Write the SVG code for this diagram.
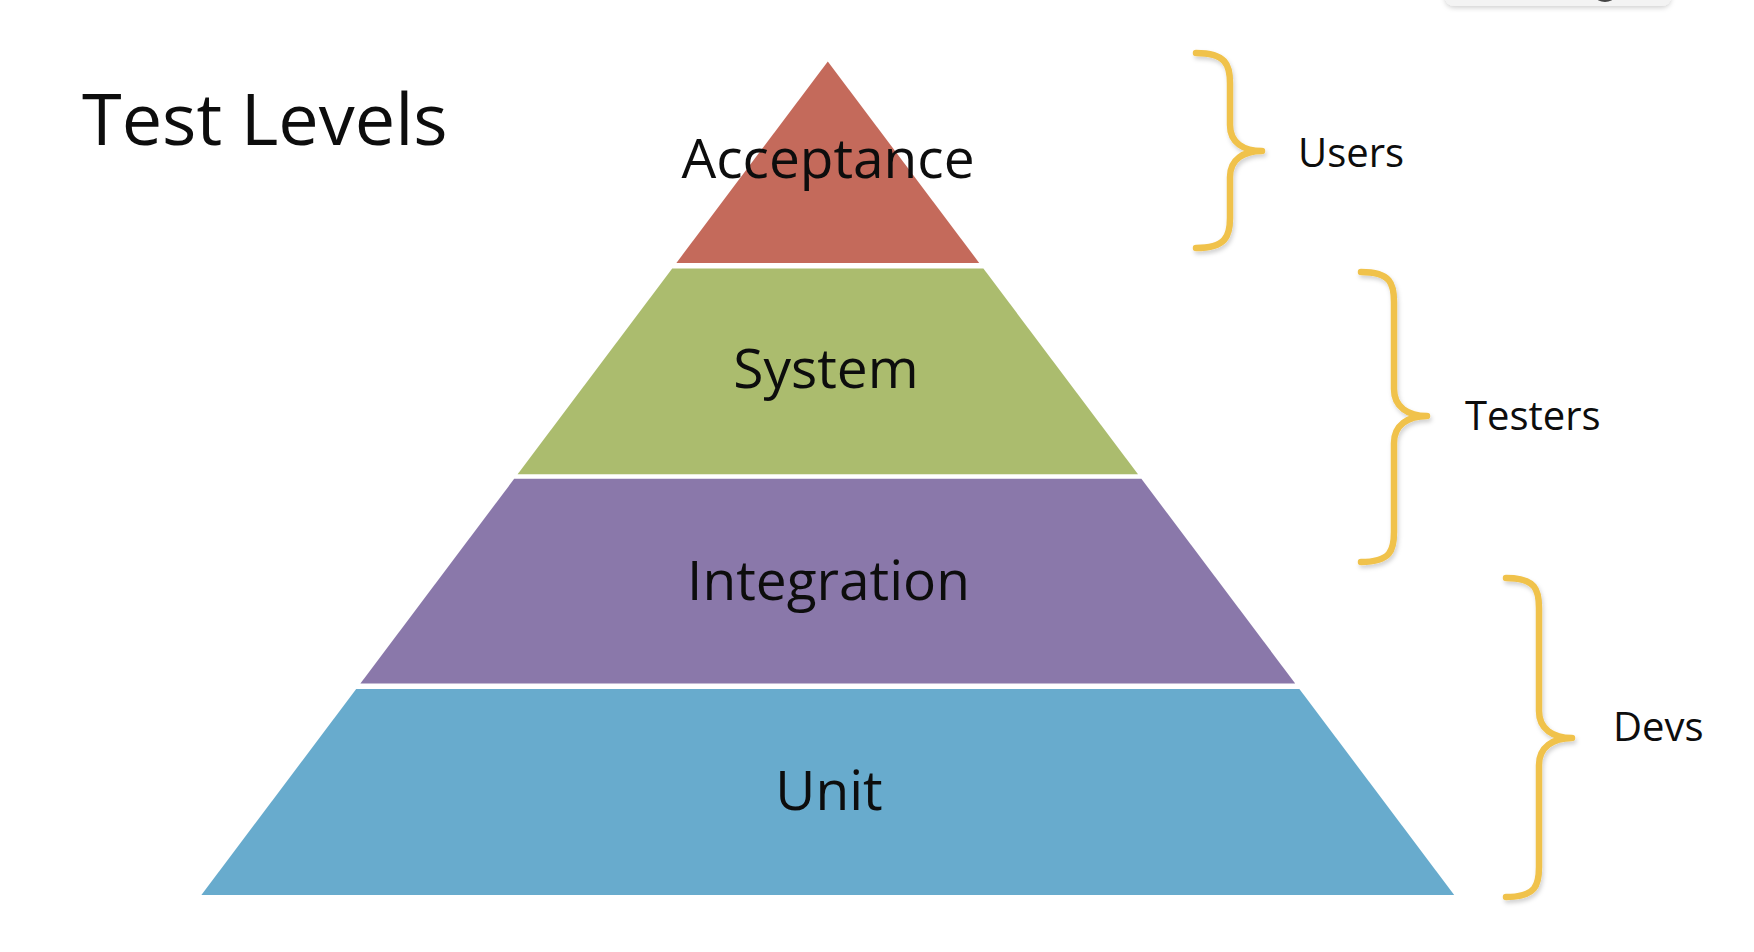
<svg xmlns="http://www.w3.org/2000/svg" width="1754" height="952" viewBox="0 0 1754 952">
  <defs>
    <style>
      .lbl { font-family: "Open Sans", "Noto Sans", "Liberation Sans", sans-serif; fill: #0d0d0d; }
      .level { font-size: 55px; text-anchor: middle; }
      .role { font-size: 40px; }
      .title { font-size: 72px; }
      .brace { fill: none; stroke: #F0C24B; stroke-width: 6.5; stroke-linecap: round; stroke-linejoin: round; filter: url(#sh); }
    </style>
    <filter id="sh" x="-50%" y="-10%" width="200%" height="120%">
      <feDropShadow dx="1.5" dy="3" stdDeviation="2" flood-color="#000" flood-opacity="0.18"/>
    </filter>
    <filter id="ui" x="-10%" y="-50%" width="120%" height="200%">
      <feDropShadow dx="0" dy="2" stdDeviation="2.5" flood-color="#000" flood-opacity="0.18"/>
    </filter>
  </defs>
  <rect x="0" y="0" width="1754" height="952" fill="#ffffff"/>

  <g id="ui-corner">
    <rect x="1445" y="-25" width="226" height="31" rx="9" fill="#F3F3F3" filter="url(#ui)"/>
    <ellipse cx="1605" cy="-3" rx="9" ry="5" fill="#444444"/>
  </g>

  <g id="title">
    <text class="lbl title" x="82" y="145">Test Levels</text>
  </g>

  <g id="acceptance">
    <polygon points="827.8,61.5 676.4,262.9 979.2,262.9" fill="#C46A5B"/>
    <text class="lbl level" x="828" y="177.5">Acceptance</text>
  </g>
  <g id="system">
    <polygon points="672.2,268.5 983.4,268.5 1138,474.3 517.6,474.3" fill="#ABBC6E"/>
    <text class="lbl level" x="826" y="387.5">System</text>
  </g>
  <g id="integration">
    <polygon points="514.2,478.8 1141.4,478.8 1295.2,683.5 360.4,683.5" fill="#8A78AA"/>
    <text class="lbl level" x="828.5" y="599.5">Integration</text>
  </g>
  <g id="unit">
    <polygon points="356.2,689 1299.4,689 1454.2,895 201.4,895" fill="#68ABCD"/>
    <text class="lbl level" x="829" y="810">Unit</text>
  </g>

  <g id="connectors">
    <path class="brace" d="M1196,53 C1226,53 1230,65 1230,83 L1230,125 C1230,143 1244,151 1262,151 C1244,151 1230,159 1230,177 L1230,218 C1230,236 1226,248 1196,248"/>
    <path class="brace" d="M1361,272 C1391,272 1394,284 1394,302 L1394,389 C1394,407 1408,416 1427,416 C1408,416 1394,425 1394,443 L1394,532 C1394,550 1391,562 1361,562"/>
    <path class="brace" d="M1506,578 C1536,578 1539,590 1539,608 L1539,711 C1539,729 1553,738 1572,738 C1553,738 1539,747 1539,765 L1539,867 C1539,885 1536,897 1506,897"/>
  </g>

  <g id="users">
    <text class="lbl role" x="1298" y="167">Users</text>
  </g>
  <g id="testers">
    <text class="lbl role" x="1465" y="429.5">Testers</text>
  </g>
  <g id="devs">
    <text class="lbl role" x="1613" y="740.5">Devs</text>
  </g>
</svg>
